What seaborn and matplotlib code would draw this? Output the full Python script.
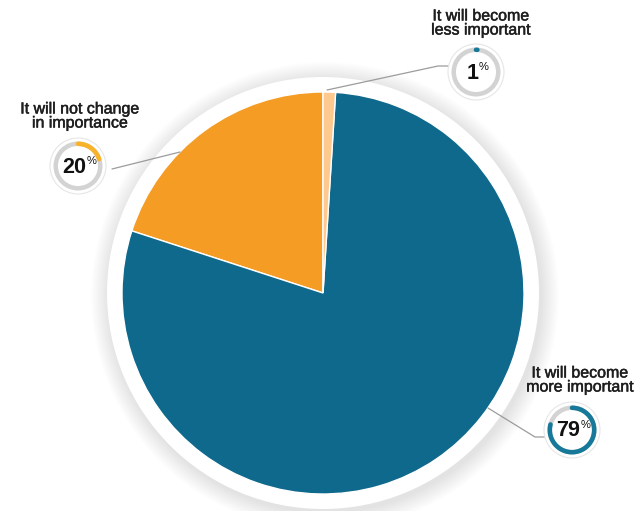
import numpy as np
import matplotlib.pyplot as plt
import matplotlib.patheffects as pe
import seaborn as sns
from matplotlib.patches import Circle, Wedge

# data: answers and their shares (percent)
labels = ["It will not change\nin importance", "It will become\nmore important", "It will become\nless important"]
shares = [20, 79, 1]
pie_colors = ["#f59c24", "#0e698c", "#fdc98f"]
badge_colors = ["#f8b32b", "#17799a", "#17799a"]

sns.set_theme(style="white")
plt.rcParams['font.family'] = ['Liberation Sans', 'DejaVu Sans']

W, H = 641, 511
fig = plt.figure(figsize=(W / 100, H / 100), dpi=100)
ax = fig.add_axes([0, 0, 1, 1])

cx, cy, r = 323, H - 293, 201

# soft shadow and white rim around the pie
for k in range(14):
    ax.add_patch(Circle((cx + 2, cy - 3), 217 + k * 1.3, color="black", alpha=0.006, lw=0, zorder=0))
ax.add_patch(Circle((cx, cy), 216, color="white", lw=0, zorder=1))

ax.pie(shares, colors=pie_colors, startangle=90, counterclock=True, center=(cx, cy), radius=r,
       wedgeprops=dict(edgecolor="white", linewidth=1, zorder=2), frame=True)

# badge / label layout (pixel positions, y from top)
badge_pos = [(78, 166), (572, 430), (476, 72)]
label_pos = [(80, 116), (580, 380), (481, 23)]
leaders = [[(112, 169), (180, 152)],
           [(488, 408), (535, 437), (547, 437)],
           [(327, 90), (438, 66), (450, 66)]]

for pts in leaders:
    xs = [p[0] for p in pts]
    ys = [H - p[1] for p in pts]
    ax.plot(xs, ys, color="#9c9c9c", lw=0.9, zorder=4)

thick = [pe.withStroke(linewidth=0.35, foreground="#1e1e1e")]
for (bx, by), p, col, lab, (lx, ly) in zip(badge_pos, shares, badge_colors, labels, label_pos):
    y = H - by
    ax.add_patch(Circle((bx, y), 28, facecolor="white", edgecolor="#e6e6e6", lw=0.8, zorder=5))
    ax.add_patch(Wedge((bx, y), 24.5, 0, 360, width=4.5, color="#d3d3d3", lw=0, zorder=6))
    th = np.radians(np.linspace(90, 90 - 3.6 * p, 200))
    ax.plot(bx + 22.2 * np.cos(th), y + 22.2 * np.sin(th), color=col, lw=3.3,
            solid_capstyle="round", zorder=7)
    n = len(str(p))
    split = bx + 5.5 * n - 3
    ax.text(split, y - 1, str(p), ha="right", va="center", fontsize=15.5, fontweight="bold",
            color="#111111", zorder=8)
    ax.text(split + 0.5, y + 5, "%", ha="left", va="center", fontsize=8,
            color="#111111", zorder=8)
    ax.text(lx, H - ly, lab, ha="center", va="center", fontsize=11.5, linespacing=0.92,
            color="#1e1e1e", zorder=8, path_effects=thick)

ax.set_xlim(0, W)
ax.set_ylim(0, H)
ax.set_aspect("equal")
ax.axis("off")
fig.savefig("out.png", dpi=100)
